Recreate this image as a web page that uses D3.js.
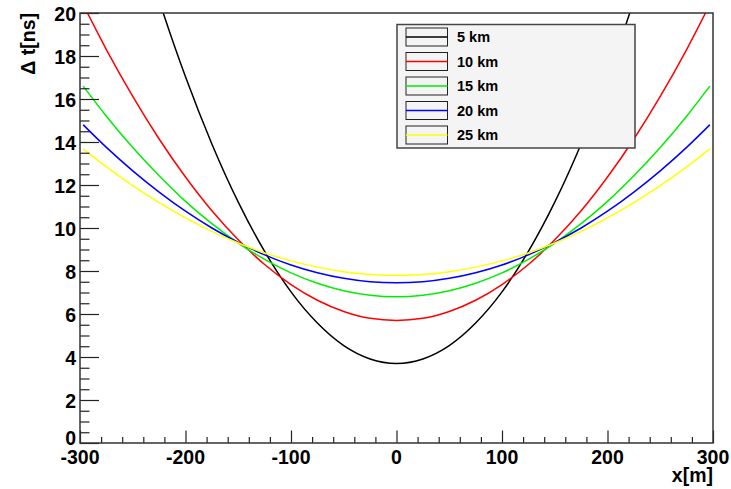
<!DOCTYPE html>
<html>
<head>
<meta charset="utf-8">
<script src="https://cdn.jsdelivr.net/npm/d3@7"></script>
<style>
  body { margin: 0; background: #fff; }
  svg { display: block; font-family: "Liberation Sans", Arial, sans-serif; }
</style>
</head>
<body>
<div id="chart"></div>
<script>
/* Delta t vs x chart */

// x positions [m]
const xValues = [-297, -275, -250, -225, -200, -175, -150, -125, -100, -75, -50, -25, 0,
  25, 50, 75, 100, 125, 150, 175, 200, 225, 250, 275, 297]

// delta t [ns], one array per distance
const dt5 = [33.10, 28.91, 24.53, 20.58, 17.03, 13.91, 11.20, 8.91, 7.03, 5.58, 4.53, 3.91, 3.70,
  3.91, 4.53, 5.58, 7.03, 8.91, 11.20, 13.91, 17.03, 20.58, 24.53, 28.91, 33.10]
const dt10 = [20.40, 18.30, 16.12, 14.14, 12.37, 10.80, 9.45, 8.30, 7.37, 6.64, 6.12, 5.80, 5.70,
  5.80, 6.12, 6.64, 7.37, 8.30, 9.45, 10.80, 12.37, 14.14, 16.12, 18.30, 20.40]
const dt15 = [16.60, 15.20, 13.74, 12.43, 11.24, 10.20, 9.30, 8.54, 7.91, 7.43, 7.08, 6.87, 6.80,
  6.87, 7.08, 7.43, 7.91, 8.54, 9.30, 10.20, 11.24, 12.43, 13.74, 15.20, 16.60]
const dt20 = [14.80, 13.75, 12.66, 11.67, 10.78, 10.00, 9.33, 8.75, 8.28, 7.92, 7.66, 7.50, 7.45,
  7.50, 7.66, 7.92, 8.28, 8.75, 9.33, 10.00, 10.78, 11.67, 12.66, 13.75, 14.80]
const dt25 = [13.68, 12.84, 11.97, 11.18, 10.47, 9.84, 9.30, 8.84, 8.47, 8.18, 7.97, 7.84, 7.80,
  7.84, 7.97, 8.18, 8.47, 8.84, 9.30, 9.84, 10.47, 11.18, 11.97, 12.84, 13.68]

const seriesNames = ["5 km", "10 km", "15 km", "20 km", "25 km"]
const seriesValues = [dt5, dt10, dt15, dt20, dt25]
const seriesColors = ["#000000", "#ff0000", "#00ee00", "#0000ff", "#ffff00"]

const xTicks = [-300, -200, -100, 0, 100, 200, 300]
const yTicks = [0, 2, 4, 6, 8, 10, 12, 14, 16, 18, 20]

const width = 731
const height = 489
const margin = { top: 13, right: 18, bottom: 46, left: 80 }
const plotW = width - margin.left - margin.right
const plotH = height - margin.top - margin.bottom
const labelSize = "19.5px"

let svg = d3.select("#chart")
  .append("svg")
  .attr("width", width)
  .attr("height", height)

let x = d3.scaleLinear().domain([-300, 300]).range([margin.left, margin.left + plotW])
let y = d3.scaleLinear().domain([0, 20]).range([margin.top + plotH, margin.top])

svg.append("clipPath")
  .attr("id", "plot-clip")
  .append("rect")
  .attr("x", margin.left)
  .attr("y", margin.top)
  .attr("width", plotW)
  .attr("height", plotH)

// curves
let line = d3.line()
  .x(d => x(d[0]))
  .y(d => y(d[1]))
  .curve(d3.curveMonotoneX)

let curves = svg.append("g").attr("clip-path", "url(#plot-clip)")
seriesValues.forEach((vals, i) => {
  curves.append("path")
    .datum(xValues.map((xv, j) => [xv, vals[j]]))
    .attr("d", line)
    .attr("fill", "none")
    .attr("stroke", seriesColors[i])
    .attr("stroke-width", 1.5)
})

// axes: major + minor ticks
let xMinor = d3.range(-300, 301, 20).filter(v => !xTicks.includes(v))
let yMinor = d3.range(0, 20.01, 0.5).filter(v => !yTicks.includes(v))

let xAxis = svg.append("g").attr("transform", `translate(0,${margin.top + plotH})`)
xAxis.call(d3.axisTop(x).tickValues(xMinor).tickSize(6).tickFormat(""))
xAxis.append("g").call(d3.axisTop(x).tickValues(xTicks).tickSize(12.5).tickFormat(""))
xAxis.selectAll(".domain").remove()

let yAxis = svg.append("g").attr("transform", `translate(${margin.left},0)`)
yAxis.call(d3.axisRight(y).tickValues(yMinor).tickSize(9.5).tickFormat(""))
yAxis.append("g").call(d3.axisRight(y).tickValues(yTicks).tickSize(19).tickFormat(""))
yAxis.selectAll(".domain").remove()

svg.selectAll(".tick line").attr("stroke", "#222").attr("stroke-width", 1.2)

// tick labels
svg.append("g").selectAll("text")
  .data(xTicks)
  .join("text")
  .attr("x", d => x(d))
  .attr("y", 463.5)
  .attr("text-anchor", "middle")
  .style("font-size", labelSize)
  .style("font-weight", "bold")
  .text(d => d)

svg.append("g").selectAll("text")
  .data(yTicks)
  .join("text")
  .attr("x", 76)
  .attr("y", d => y(d) + (d === 0 ? 2 : 7.6))
  .attr("text-anchor", "end")
  .style("font-size", labelSize)
  .style("font-weight", "bold")
  .text(d => d)

// axis titles
svg.append("text")
  .attr("x", margin.left + plotW)
  .attr("y", 482)
  .attr("text-anchor", "end")
  .style("font-size", labelSize)
  .style("font-weight", "bold")
  .text("x[m]")

svg.append("text")
  .attr("transform", `translate(35,${margin.top}) rotate(-90)`)
  .attr("text-anchor", "end")
  .style("font-size", labelSize)
  .style("font-weight", "bold")
  .text("Δ t[ns]")

// frame
svg.append("rect")
  .attr("x", margin.left)
  .attr("y", margin.top)
  .attr("width", plotW)
  .attr("height", plotH)
  .attr("fill", "none")
  .attr("stroke", "#333")
  .attr("stroke-width", 1.5)

// legend
let legend = svg.append("g")
legend.append("rect")
  .attr("x", 397)
  .attr("y", 24.5)
  .attr("width", 238)
  .attr("height", 123.5)
  .attr("fill", "#f4f4f4")
  .attr("stroke", "#444")
  .attr("stroke-width", 1.5)

seriesNames.forEach((name, i) => {
  let cy = 37 + i * 24.5
  legend.append("rect")
    .attr("x", 406)
    .attr("y", cy - 9)
    .attr("width", 41.5)
    .attr("height", 18)
    .attr("fill", "none")
    .attr("stroke", "#222")
    .attr("stroke-width", 1)
  legend.append("line")
    .attr("x1", 406)
    .attr("x2", 447.5)
    .attr("y1", cy)
    .attr("y2", cy)
    .attr("stroke", seriesColors[i])
    .attr("stroke-width", 1.5)
  legend.append("text")
    .attr("x", 457)
    .attr("y", cy + 5.3)
    .style("font-size", "14.5px")
    .style("font-weight", "bold")
    .text(name)
})
</script>
</body>
</html>
